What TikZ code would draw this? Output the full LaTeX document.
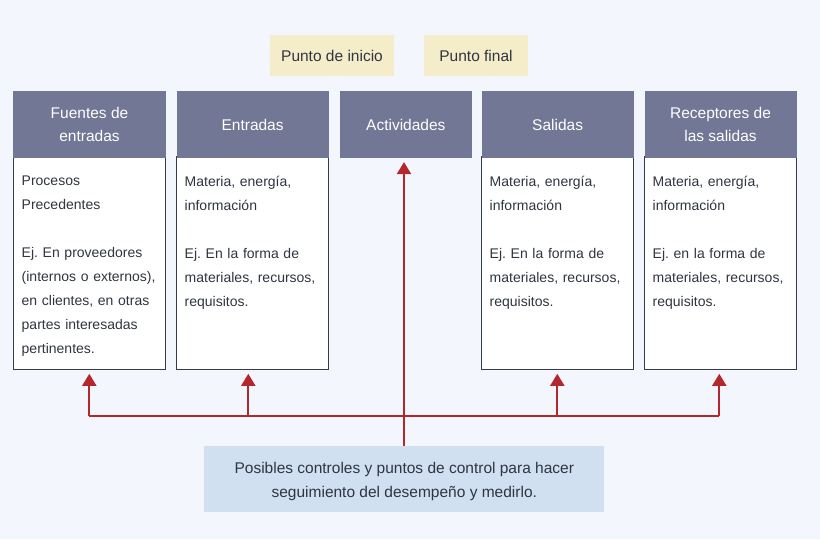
\documentclass[tikz,border=0pt]{standalone}
\usepackage{fontspec}
\setmainfont{Liberation Sans}
\frenchspacing
\usetikzlibrary{arrows.meta}
\definecolor{bgcol}{HTML}{F3F7FD}
\definecolor{headcol}{HTML}{717794}
\definecolor{tagcol}{HTML}{F5EDC9}
\definecolor{ctlcol}{HTML}{D0E0F0}
\definecolor{redcol}{HTML}{B3282D}
\definecolor{txtcol}{HTML}{2F3541}
\definecolor{edgecol}{HTML}{343D4C}
\tikzset{
  headbox/.style={rectangle, fill=headcol, text=white, minimum height=66.7pt,
    inner sep=0pt, align=center, font=\fontsize{15.5}{23}\selectfont},
  bodybox/.style={rectangle, fill=white, draw=edgecol, line width=1pt,
    minimum width=152pt, minimum height=212.6pt, inner sep=0pt},
  bodytext/.style={anchor=north west, inner sep=0pt, text width=140pt,
    align=left, text=txtcol, font=\fontsize{14}{24}\selectfont},
  tagbox/.style={rectangle, fill=tagcol, text=txtcol, minimum height=41pt,
    inner sep=0pt, font=\fontsize{15.5}{19}\selectfont},
  ctlbox/.style={rectangle, fill=ctlcol, text=txtcol, minimum width=400pt,
    minimum height=66.3pt, inner sep=0pt, align=center,
    font=\fontsize{15.5}{24}\selectfont},
  redline/.style={draw=redcol, line width=2pt},
  redarrow/.style={redline, -{Triangle[width=14pt,length=12pt]}, shorten >=4pt},
}
\begin{document}
\begin{tikzpicture}[x=1pt,y=-1pt]
\fill[bgcol] (0,0) rectangle (820,539);
\useasboundingbox (0,0) rectangle (820,539);

% tags
\node[tagbox, minimum width=124pt] (p1) at (332,55.5) {Punto de inicio};
\node[tagbox, minimum width=104pt] (p2) at (476,55.5) {Punto final};

% body boxes
\node[bodybox] (b1) at (89.5,263) {};
\node[bodybox] (b2) at (252.6,263) {};
\node[bodybox] (b4) at (557.6,263) {};
\node[bodybox] (b5) at (720.5,263) {};

% headers
\node[headbox, minimum width=152.4pt] (h1) at (89.5,124.5) {Fuentes de\\entradas};
\node[headbox, minimum width=152pt] (h2) at (252.6,124.5) {Entradas};
\node[headbox, minimum width=131.7pt] (h3) at (405.8,124.5) {Actividades};
\node[headbox, minimum width=152pt] (h4) at (557.6,124.5) {Salidas};
\node[headbox, minimum width=152pt] (h5) at (720.5,124.5) {Receptores de\\las salidas};

% body texts
\node[bodytext] (t1) at (21.5,175.5) {Procesos\\Precedentes\\[24pt]Ej. En proveedores\\(internos o externos),\\en clientes, en otras\\partes interesadas\\pertinentes.};
\node[bodytext] (t2) at (184.5,175.5) {Materia, energía,\\información\\[24pt]Ej. En la forma de\\materiales, recursos,\\requisitos.};
\node[bodytext] (t4) at (489.5,175.5) {Materia, energía,\\información\\[24pt]Ej. En la forma de\\materiales, recursos,\\requisitos.};
\node[bodytext] (t5) at (652.5,175.5) {Materia, energía,\\información\\[24pt]Ej. en la forma de\\materiales, recursos,\\requisitos.};

% control box
\node[ctlbox] (ctl) at (404.3,479.2) {\rule{0pt}{16pt}Posibles controles y puntos de control para hacer\\seguimiento del desempeño y medirlo.};

% connectors
\coordinate (j1) at (89.3,416);
\coordinate (j2) at (248.3,416);
\coordinate (j3) at (404,416);
\coordinate (j4) at (557.3,416);
\coordinate (j5) at (719.3,416);
\coordinate (c0) at (404,446);
\draw[redline] (j1) -- (j5);
\draw[redarrow] (j1) -- (j1 |- b1.south);
\draw[redarrow] (j2) -- (j2 |- b2.south);
\draw[redarrow] (j4) -- (j4 |- b4.south);
\draw[redarrow] (j5) -- (j5 |- b5.south);
\draw[redarrow] (c0) -- (c0 |- h3.south);
\end{tikzpicture}
\end{document}
